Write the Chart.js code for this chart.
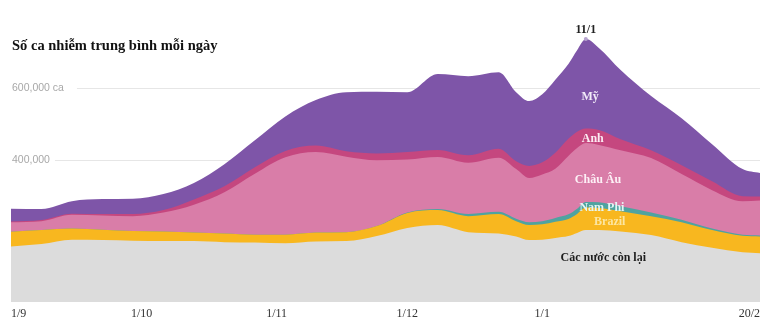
<!DOCTYPE html>
<html lang="vi">
<head>
<meta charset="utf-8">
<script src="https://cdn.jsdelivr.net/npm/chart.js@4/dist/chart.umd.min.js"></script>
<style>
html,body{margin:0;padding:0;background:#fff;}
</style>
</head>
<body>
<canvas id="chart" width="770" height="327"></canvas>
<script>
// ngày tính từ 1/9
const days = [0,7,14,21,28,35,42,49,56,63,70,77,84,91,98,105,112,116,119,122,125,128,130,132,135,140,147,154,161,168,172];
const tickDays = [0,30,61,91,122,172];
const tickLabels = ['1/9','1/10','1/11','1/12','1/1','20/2'];
const yTicks = [400000,600000];
const yTickLabels = ['400,000','600,000 ca'];

// số ca trung bình mỗi ngày (nghìn ca)
const conLai = [156,163,175,174,172,171,171,168,167,165,170,171,185,208,216,196,192,184,174,175,180,185,194,202,202,198,188,168,152,140,137];
const brazil = [41,39,31,29,27,27,24,24,22,24,25,25,28,42,42,45,55,43,42,43,45,48,53,63,62,57,53,56,50,46,47];
const namPhi = [0,0,0,0,0,0,0,0,0,0,0,0,0,1,3,6,6,7,8,9,11,13,15,16,16,14,10,7,4,3,3];
const chauAu = [27,25,39,40,42,53,78,116,171,217,226,212,185,149,146,144,152,139,124,131,138,164,170,165,161,157,153,128,108,94,98];
const anh = [2,3,3,4,6,7,15,17,18,18,18,15,19,21,20,21,25,22,34,34,45,48,46,41,42,31,22,25,25,14,11];
const my = [36,31,35,42,43,45,46,62,76,97,128,166,173,168,213,222,215,194,182,191,205,210,229,251,230,194,152,132,104,76,66];

const seriesNames = ['Các nước còn lại','Brazil','Nam Phi','Châu Âu','Anh','Mỹ'];
const seriesColors = ['#dcdcdc','#f8b71f','#4fa3a0','#d97da8','#c5477f','#7e55a8'];
const labelColors = ['#1e1e1e','#fce6a2','#e4f6f5','#fdf0f6','#fcecf3','#f1eaf8'];
const labelDays = [136,137.5,135.7,134.8,133.6,133];
const labelValues = [123,224,265,342,457,575];
const peakDay = 132;
const peakLabel = '11/1';
const title = 'Số ca nhiễm trung bình mỗi ngày';

const allSeries = [conLai, brazil, namPhi, chauAu, anh, my];

const overlay = {
  id: 'overlay',
  beforeDatasetsDraw(chart){
    const ctx = chart.ctx, ys = chart.scales.y, area = chart.chartArea;
    ctx.save();
    ctx.font = '10.5px "Liberation Sans", Arial, sans-serif';
    ctx.textBaseline = 'middle';
    yTicks.forEach((v,i) => {
      const y = Math.round(ys.getPixelForValue(v)) + 0.5;
      ctx.fillStyle = '#a8a8a8';
      ctx.fillText(yTickLabels[i], 12, y);
      const start = 12 + ctx.measureText(yTickLabels[i]).width + (i === 1 ? 13 : 5);
      ctx.strokeStyle = '#e6e6e6';
      ctx.lineWidth = 1;
      ctx.beginPath();
      ctx.moveTo(start, y);
      ctx.lineTo(area.right, y);
      ctx.stroke();
    });
    ctx.restore();
  },
  afterDraw(chart){
    const ctx = chart.ctx, xs = chart.scales.x, ys = chart.scales.y;
    ctx.save();
    // tiêu đề
    ctx.fillStyle = '#111';
    ctx.font = 'bold 14.5px "Liberation Serif", "Times New Roman", serif';
    ctx.textBaseline = 'alphabetic';
    ctx.textAlign = 'left';
    ctx.fillText(title, 12, 50);

    // nhãn trục x
    ctx.font = '12px "Liberation Serif", "Times New Roman", serif';
    ctx.fillStyle = '#333';
    ctx.textBaseline = 'middle';
    tickDays.forEach((d,i) => {
      ctx.textAlign = i === 0 ? 'left' : (i === tickDays.length - 1 ? 'right' : 'center');
      ctx.fillText(tickLabels[i], xs.getPixelForValue(d), xs.bottom + 12);
    });

    // nhãn các vùng
    ctx.font = 'bold 12px "Liberation Serif", "Times New Roman", serif';
    ctx.textAlign = 'center';
    seriesNames.forEach((n,i) => {
      ctx.fillStyle = labelColors[i];
      ctx.fillText(n, xs.getPixelForValue(labelDays[i]), ys.getPixelForValue(labelValues[i] * 1000));
    });

    // đỉnh 11/1
    const k = days.indexOf(peakDay);
    const total = allSeries.reduce((s,a) => s + a[k], 0) * 1000;
    ctx.fillStyle = '#222';
    ctx.textBaseline = 'bottom';
    ctx.fillText(peakLabel, xs.getPixelForValue(peakDay), ys.getPixelForValue(total) - 3);
    ctx.restore();
  }
};

const chart = new Chart(document.getElementById('chart'), {
  type: 'line',
  data: {
    datasets: allSeries.map((arr,i) => ({
      label: seriesNames[i],
      data: arr.map((v,j) => ({x: days[j], y: v * 1000})),
      backgroundColor: seriesColors[i],
      borderColor: seriesColors[i],
      borderWidth: 0,
      fill: 'origin',
      cubicInterpolationMode: 'monotone',
      pointRadius: i === 5 ? (c => days[c.dataIndex] === peakDay ? 2 : 0) : 0,
      pointBackgroundColor: '#b7a5cf',
      pointBorderWidth: 0
    }))
  },
  options: {
    responsive: false,
    animation: false,
    layout: {padding: {left: 11, right: 10, top: 17, bottom: 25}},
    plugins: {legend: {display: false}, tooltip: {enabled: false}},
    scales: {
      x: {type: 'linear', min: 0, max: 172, display: false},
      y: {stacked: true, min: 0, max: 800000, display: false}
    }
  },
  plugins: [overlay]
});
</script>
</body>
</html>
